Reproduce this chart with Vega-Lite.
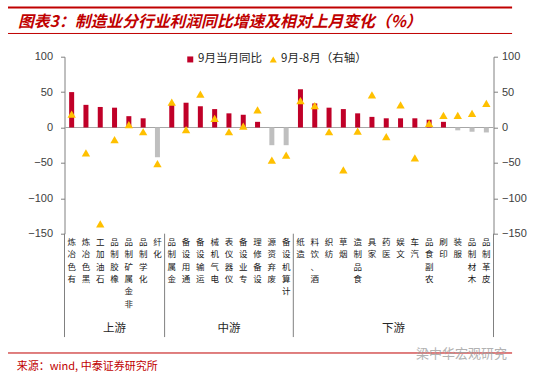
{
  "$schema": "https://vega.github.io/schema/vega-lite/v6.json",
  "width": 429,
  "height": 177,
  "autosize": {"type": "none"},
  "padding": {"left": 64.5, "top": 56.7, "right": 56.5, "bottom": 144.3},
  "background": "white",
  "config": {"view": {"stroke": null}, "axis": {"grid": false}},
  "data": {"values": [
    {"cat": "有色冶炼", "group": "上游", "yoy": 50, "chg": 19},
    {"cat": "黑色冶炼", "group": "上游", "yoy": 32, "chg": -36},
    {"cat": "石油加工", "group": "上游", "yoy": 29, "chg": -136},
    {"cat": "橡胶制品", "group": "上游", "yoy": 28, "chg": -17},
    {"cat": "非金属矿制品", "group": "上游", "yoy": 16, "chg": 4},
    {"cat": "化学制品", "group": "上游", "yoy": 13, "chg": -6},
    {"cat": "化纤", "group": "上游", "yoy": -42, "chg": -51},
    {"cat": "金属制品", "group": "中游", "yoy": 33, "chg": 36},
    {"cat": "通用设备", "group": "中游", "yoy": 35, "chg": -3},
    {"cat": "运输设备", "group": "中游", "yoy": 30, "chg": 47},
    {"cat": "电气机械", "group": "中游", "yoy": 26, "chg": 13},
    {"cat": "仪器仪表", "group": "中游", "yoy": 20, "chg": -6},
    {"cat": "专业设备", "group": "中游", "yoy": 18, "chg": 2},
    {"cat": "设备修理", "group": "中游", "yoy": 8, "chg": 25},
    {"cat": "废弃资源", "group": "中游", "yoy": -25, "chg": -46},
    {"cat": "计算机设备", "group": "中游", "yoy": -25, "chg": -39},
    {"cat": "造纸", "group": "下游", "yoy": 54, "chg": 38},
    {"cat": "酒、饮料", "group": "下游", "yoy": 34, "chg": 31},
    {"cat": "纺织", "group": "下游", "yoy": 28, "chg": -6},
    {"cat": "烟草", "group": "下游", "yoy": 26, "chg": -60},
    {"cat": "食品制造", "group": "下游", "yoy": 20, "chg": -5},
    {"cat": "家具", "group": "下游", "yoy": 15, "chg": 46},
    {"cat": "医药", "group": "下游", "yoy": 13, "chg": -13},
    {"cat": "文娱", "group": "下游", "yoy": 13, "chg": 32},
    {"cat": "汽车", "group": "下游", "yoy": 13, "chg": -43},
    {"cat": "农副食品", "group": "下游", "yoy": 11, "chg": 6},
    {"cat": "印刷", "group": "下游", "yoy": 8, "chg": 17},
    {"cat": "服装", "group": "下游", "yoy": -4, "chg": 17},
    {"cat": "木材制品", "group": "下游", "yoy": -6, "chg": 20},
    {"cat": "皮革制品", "group": "下游", "yoy": -7, "chg": 34}
  ]},
  "resolve": {"scale": {"y": "independent", "color": "independent"}},
  "layer": [
    {
      "layer": [
        {
          "data": {"values": [{}]},
          "mark": {"type": "rule", "color": "#A6A6A6", "strokeWidth": 1},
          "encoding": {"y": {"datum": 0, "type": "quantitative", "scale": {"domain": [-150, 100], "nice": false}, "axis": null}}
        },
        {
          "transform": [{"filter": "indexof(['有色冶炼','金属制品','造纸'], datum.cat) >= 0"}],
          "mark": {"type": "rule", "color": "#808080", "strokeWidth": 1},
          "encoding": {
            "x": {"field": "cat", "type": "nominal", "sort": null, "bandPosition": 0},
            "y": {"datum": -150, "type": "quantitative", "axis": null},
            "y2": {"datum": -296}
          }
        },
        {
          "data": {"values": [{}]},
          "mark": {"type": "rule", "color": "#808080", "strokeWidth": 1},
          "encoding": {
            "x": {"datum": "皮革制品", "bandPosition": 1},
            "y": {"datum": -150, "type": "quantitative", "axis": null},
            "y2": {"datum": -296}
          }
        },
        {
          "transform": [{"filter": "datum.cat === '橡胶制品' || datum.cat === '仪器仪表'"}],
          "mark": {"type": "text", "font": "Noto Sans CJK SC", "fontSize": 11.5, "color": "#262626", "baseline": "middle"},
          "encoding": {
            "x": {"field": "cat", "type": "nominal", "sort": null},
            "y": {"datum": -285, "type": "quantitative", "axis": null},
            "text": {"field": "group"}
          }
        },
        {
          "transform": [{"filter": "datum.cat === '文娱'"}],
          "mark": {"type": "text", "font": "Noto Sans CJK SC", "fontSize": 11.5, "color": "#262626", "baseline": "middle"},
          "encoding": {
            "x": {"field": "cat", "type": "nominal", "sort": null, "bandPosition": 0},
            "y": {"datum": -285, "type": "quantitative", "axis": null},
            "text": {"field": "group"}
          }
        },
        {
          "data": {"values": [{}]},
          "mark": {"type": "rule", "color": "#C00000", "strokeWidth": 2},
          "encoding": {
            "x": {"datum": "有色冶炼", "bandPosition": -3.95},
            "x2": {"datum": "有色冶炼", "bandPosition": 31.3},
            "y": {"datum": 169.5, "type": "quantitative", "axis": null}
          }
        },
        {
          "data": {"values": [{}]},
          "mark": {"type": "rule", "color": "#C00000", "strokeWidth": 1},
          "encoding": {
            "x": {"datum": "有色冶炼", "bandPosition": -3.95},
            "x2": {"datum": "有色冶炼", "bandPosition": 31.3},
            "y": {"datum": 132.8, "type": "quantitative", "axis": null}
          }
        },
        {
          "data": {"values": [{}]},
          "mark": {"type": "rule", "color": "#C00000", "strokeWidth": 1},
          "encoding": {
            "x": {"datum": "有色冶炼", "bandPosition": -3.95},
            "x2": {"datum": "有色冶炼", "bandPosition": 31.3},
            "y": {"datum": -318.5, "type": "quantitative", "axis": null}
          }
        },
        {
          "data": {"values": [{}]},
          "mark": {"type": "text", "text": "图表3：制造业分行业利润同比增速及相对上月变化（%）", "align": "left", "baseline": "middle",
            "font": "Noto Sans CJK SC", "fontSize": 15.8, "fontWeight": "bold", "fontStyle": "italic", "color": "#C00000"},
          "encoding": {
            "x": {"datum": "有色冶炼", "bandPosition": -3.25},
            "y": {"datum": 149.7, "type": "quantitative", "axis": null}
          }
        },
        {
          "data": {"values": [{}]},
          "mark": {"type": "text", "text": "来源：wind, 中泰证券研究所", "align": "left", "baseline": "middle",
            "font": "Noto Sans CJK SC", "fontSize": 11, "color": "#C00000"},
          "encoding": {
            "x": {"datum": "有色冶炼", "bandPosition": -3.34},
            "y": {"datum": -337.6, "type": "quantitative", "axis": null}
          }
        },
        {
          "data": {"values": [{}]},
          "mark": {"type": "text", "text": "梁中华宏观研究", "align": "right", "baseline": "middle",
            "font": "Noto Sans CJK SC", "fontSize": 13, "color": "#A0A0A0", "opacity": 0.8},
          "encoding": {
            "x": {"datum": "有色冶炼", "bandPosition": 30.94},
            "y": {"datum": -320, "type": "quantitative", "axis": null}
          }
        }
      ]
    },
    {
      "mark": {"type": "bar", "width": 5},
      "encoding": {
        "x": {"field": "cat", "type": "nominal", "sort": null,
          "scale": {"type": "band", "paddingInner": 0, "paddingOuter": 0,
            "domain": ["有色冶炼", "黑色冶炼", "石油加工", "橡胶制品", "非金属矿制品", "化学制品", "化纤",
              "金属制品", "通用设备", "运输设备", "电气机械", "仪器仪表", "专业设备", "设备修理", "废弃资源", "计算机设备",
              "造纸", "酒、饮料", "纺织", "烟草", "食品制造", "家具", "医药", "文娱", "汽车", "农副食品", "印刷", "服装", "木材制品", "皮革制品"]},
          "axis": {"orient": "bottom", "title": null, "domain": false, "ticks": false, "labelAngle": 0,
            "labelBaseline": "top", "labelAlign": "center", "labelPadding": 4,
            "labelFont": "Noto Sans CJK SC", "labelFontSize": 8.5, "labelLineHeight": 12.3,
            "labelColor": "#202020", "labelExpr": "reverse(split(datum.label, ''))",
            "labelOverlap": false, "labelBound": false, "labelFlush": false, "labelLimit": 0}},
        "y": {"field": "yoy", "type": "quantitative",
          "scale": {"domain": [-150, 100], "nice": false},
          "axis": {"orient": "left", "title": null, "values": [-150, -100, -50, 0, 50, 100],
            "domainColor": "#808080", "tickColor": "#808080", "tickSize": 4, "labelPadding": 8,
            "labelOverlap": false, "labelFlush": false,
            "labelFont": "Liberation Sans", "labelFontSize": 11, "labelColor": "#404040", "grid": false}},
        "color": {"condition": {"test": "datum.yoy < 0", "value": "#BFBFBF"},
          "datum": "9月当月同比", "scale": {"range": ["#C00028"]},
          "legend": {"orient": "none", "legendX": 120, "legendY": -3, "title": null, "padding": 0,
            "symbolType": "square", "symbolSize": 36, "labelFont": "Noto Sans CJK SC", "labelFontSize": 11.5,
            "labelColor": "#262626", "labelOffset": 2}}
      }
    },
    {
      "mark": {"type": "point", "shape": "triangle-up", "filled": true, "size": 70, "opacity": 1},
      "encoding": {
        "x": {"field": "cat", "type": "nominal", "sort": null},
        "y": {"field": "chg", "type": "quantitative",
          "scale": {"domain": [-150, 100], "nice": false},
          "axis": {"orient": "right", "title": null, "values": [-150, -100, -50, 0, 50, 100],
            "domainColor": "#808080", "tickColor": "#808080", "tickSize": 4, "labelPadding": 4,
            "labelOverlap": false, "labelFlush": false,
            "labelFont": "Liberation Sans", "labelFontSize": 11, "labelColor": "#404040", "grid": false}},
        "color": {"datum": "9月-8月（右轴）", "scale": {"range": ["#FFC000"]},
          "legend": {"orient": "none", "legendX": 203, "legendY": -3, "title": null, "padding": 0,
            "symbolType": "triangle-up", "symbolSize": 50, "labelFont": "Noto Sans CJK SC", "labelFontSize": 11.5,
            "labelColor": "#262626", "labelOffset": 2}}
      }
    }
  ]
}
